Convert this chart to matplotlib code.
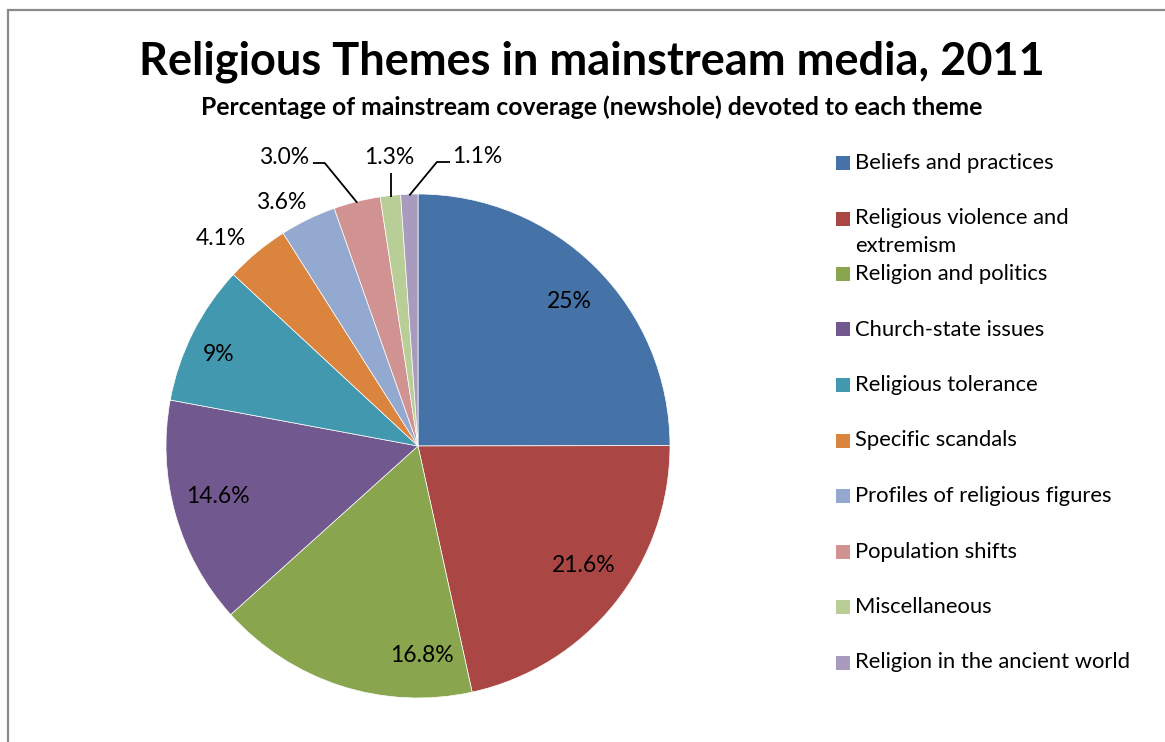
import numpy as np
import matplotlib
matplotlib.use("Agg")
import matplotlib.pyplot as plt
from matplotlib.patches import Rectangle

# ---- data -------------------------------------------------------------
categories = [
    "Beliefs and practices",
    "Religious violence and\nextremism",
    "Religion and politics",
    "Church-state issues",
    "Religious tolerance",
    "Specific scandals",
    "Profiles of religious figures",
    "Population shifts",
    "Miscellaneous",
    "Religion in the ancient world",
]
shares = [25, 21.6, 16.8, 14.6, 9, 4.1, 3.6, 3.0, 1.3, 1.1]
share_labels = ["25%", "21.6%", "16.8%", "14.6%", "9%",
                "4.1%", "3.6%", "3.0%", "1.3%", "1.1%"]

colors = ["#4572A7", "#AA4643", "#89A54E", "#71588F", "#4198AF",
          "#DB843D", "#93A9CF", "#D19392", "#B9CD96", "#A99BBD"]

title = "Religious Themes in mainstream media, 2011"
subtitle = "Percentage of mainstream coverage (newshole) devoted to each theme"

# ---- figure -----------------------------------------------------------
W, H = 1165, 742
plt.rcParams["font.family"] = ["Lato", "DejaVu Sans"]
fig = plt.figure(figsize=(W / 100, H / 100), dpi=100)
fig.patch.set_facecolor("white")

def fx(px):
    return px / W

def fy(py):
    return 1 - py / H

# chart-area frame (runs off the right and bottom edges)
fig.add_artist(Rectangle((fx(8), -0.2), 1.5, fy(10) + 0.2,
                         transform=fig.transFigure, fill=False,
                         edgecolor="#8a8a8a", linewidth=1.6))

fig.text(fx(592), fy(62), title, ha="center", va="center",
         fontsize=32.5, fontweight="bold", color="black")
fig.text(fx(592), fy(107), subtitle, ha="center", va="center",
         fontsize=17.8, fontweight="bold", color="black")

# ---- pie --------------------------------------------------------------
ax = fig.add_axes([fx(166), fy(698), 504 / W, 504 / H])
wedges, _ = ax.pie(shares, colors=colors, startangle=90,
                   counterclock=False, radius=1,
                   wedgeprops=dict(edgecolor="white", linewidth=0.5))
ax.set_xlim(-1, 1)
ax.set_ylim(-1, 1)
ax.set_aspect("equal")
ax.axis("off")

mids = [(w.theta1 + w.theta2) / 2 for w in wedges]

def polar(ang, r):
    a = np.deg2rad(ang)
    return r * np.cos(a), r * np.sin(a)

label_fs = 16.5
# labels inside the larger slices: (angle shift, radius)
inner_place = [(-1.5, 0.83), (3, 0.81), (19, 0.83), (-1.5, 0.82), (2, 0.87)]
for i, (dang, r) in enumerate(inner_place):
    x, y = polar(mids[i] + dang, r)
    ax.text(x, y, share_labels[i], ha="center", va="center",
            fontsize=label_fs, color="black")

# labels outside the small slices
outer_place = {5: (3.8, 1.137), 6: (3.5, 1.109)}
for i, (dang, r) in outer_place.items():
    x, y = polar(mids[i] + dang, r)
    ax.text(x, y, share_labels[i], ha="center", va="center",
            fontsize=label_fs, color="black")

# labels with leader lines
line_kw = dict(color="black", linewidth=1.3, solid_capstyle="butt",
               clip_on=False)
tip7 = polar(mids[7], 0.995)
ax.plot([-0.417, -0.37, tip7[0]], [1.123, 1.123, tip7[1]], **line_kw)
ax.text(-0.43, 1.143, share_labels[7], ha="right", va="center",
        fontsize=label_fs)

tip8 = polar(mids[8], 0.995)
ax.plot([tip8[0], tip8[0]], [tip8[1], 1.083], **line_kw)
ax.text(tip8[0] - 0.005, 1.143, share_labels[8], ha="center", va="center",
        fontsize=label_fs)

tip9 = polar(mids[9], 0.995)
ax.plot([0.127, 0.075, tip9[0]], [1.127, 1.127, tip9[1]], **line_kw)
ax.text(0.135, 1.147, share_labels[9], ha="left", va="center",
        fontsize=label_fs)

# ---- legend -----------------------------------------------------------
leg_x, leg_y0, leg_step, line_step = 836, 163, 55.5, 28
for i, (lab, col) in enumerate(zip(categories, colors)):
    yc = leg_y0 + i * leg_step
    fig.add_artist(Rectangle((fx(leg_x), fy(yc + 7)), 14 / W, 14 / H,
                             transform=fig.transFigure, facecolor=col,
                             edgecolor="none"))
    for j, part in enumerate(lab.split("\n")):
        fig.text(fx(leg_x + 19), fy(yc + 6 + j * line_step), part,
                 ha="left", va="baseline", fontsize=15.8, color="black")

fig.savefig("out.png", dpi=100)
